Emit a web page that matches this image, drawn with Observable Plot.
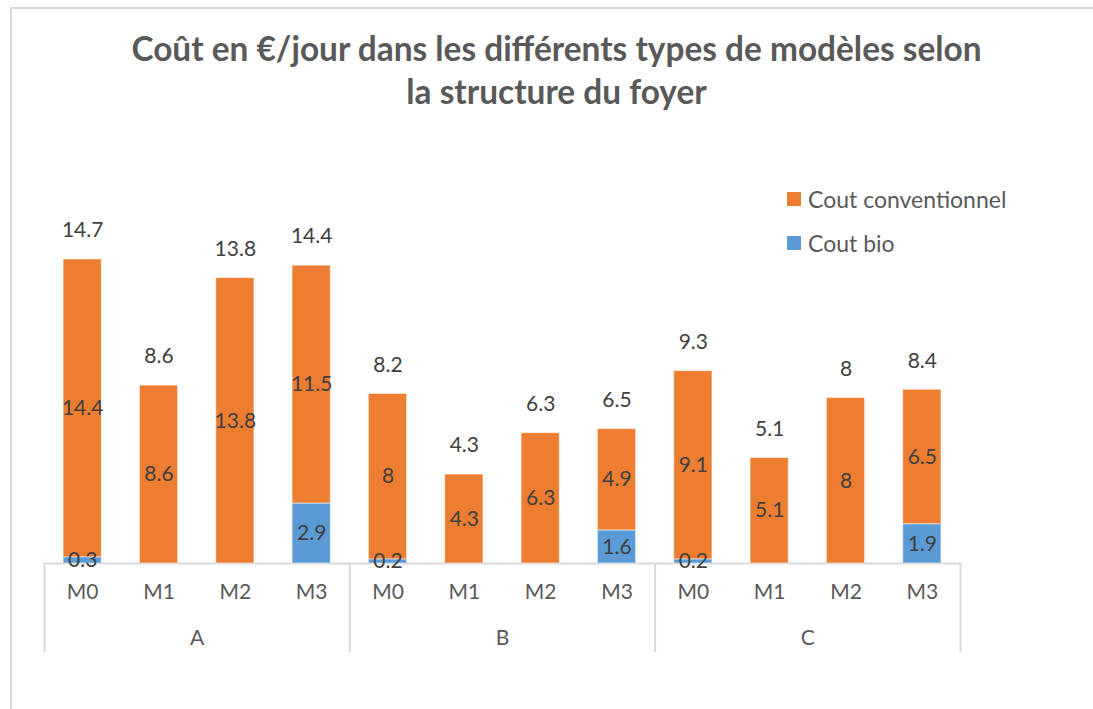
<!DOCTYPE html>
<html><head><meta charset="utf-8">
<script src="https://cdn.jsdelivr.net/npm/d3@7"></script>
<script src="https://cdn.jsdelivr.net/npm/@observablehq/plot@0.6"></script>
<style>
html,body{margin:0;padding:0;background:#fff;}
body{width:1093px;height:709px;position:relative;overflow:hidden;font-family:Lato,"Open Sans",sans-serif;}
#frame{position:absolute;left:10px;top:7px;width:1100px;height:720px;border-left:2px solid #d9d9d9;border-top:2px solid #d9d9d9;}
#title{position:relative;height:130px;box-sizing:border-box;padding-top:27px;padding-left:20px;text-align:center;font-weight:bold;font-size:33.4px;line-height:43px;color:#595959;}
#chart{position:relative;height:579px;}
#legend{position:absolute;left:787px;top:177px;font-size:23px;color:#595959;}
.item{display:flex;align-items:center;height:44px;}
.sw{width:14px;height:14px;margin-right:7px;}
</style></head>
<body>
<div id="frame"></div>
<div id="title">Coût en €/jour dans les différents types de modèles selon<br>la structure du foyer</div>
<div id="chart"></div>
<div id="legend"></div>
<script>
const groups = ["A", "B", "C"];
const models = ["M0", "M1", "M2", "M3"];
const coutBio  = [0.3, 0, 0, 2.9,   0.2, 0, 0, 1.6,   0.2, 0, 0, 1.9];
const coutConv = [14.4, 8.6, 13.8, 11.5,   8, 4.3, 6.3, 4.9,   9.1, 5.1, 8, 6.5];
const totals   = [14.7, 8.6, 13.8, 14.4,   8.2, 4.3, 6.3, 6.5,   9.3, 5.1, 8, 8.4];
const seriesNames = ["Cout conventionnel", "Cout bio"];
const seriesColors = ["#ED7D31", "#5B9BD5"];

const cats = [];
groups.forEach((g, gi) => models.forEach((m, mi) => cats.push({i: gi * models.length + mi, g, m})));

const rows = [];
cats.forEach(c => rows.push({i: c.i, series: seriesNames[1], value: coutBio[c.i]}));
cats.forEach(c => rows.push({i: c.i, series: seriesNames[0], value: coutConv[c.i]}));
const labelRows = rows.filter(d => d.value > 0);
const totalRows = cats.map(c => ({i: c.i, total: totals[c.i]}));
const groupRows = groups.map((g, gi) => ({g, center: gi * models.length + models.length / 2}));
const dividers = d3.range(0, cats.length + 1, models.length);

const chart = Plot.plot({
  width: 1093, height: 579,
  marginLeft: 44, marginRight: 133, marginTop: 129, marginBottom: 146,
  x: {type: "linear", domain: [0, cats.length], axis: null, label: null},
  y: {domain: [0, d3.max(totals)], axis: null, label: null},
  color: {domain: seriesNames, range: seriesColors},
  style: {fontFamily: "Lato, 'Open Sans', sans-serif", background: "transparent", overflow: "visible"},
  marks: [
    Plot.ruleY([0], {stroke: "#d9d9d9", strokeWidth: 2}),
    Plot.axisX(dividers, {tickSize: 89, tickFormat: () => "", label: null, stroke: "#d9d9d9", strokeWidth: 2}),
    Plot.rectY(rows, Plot.stackY({x1: d => d.i + 0.25, x2: d => d.i + 0.75, y: "value", fill: "series", stroke: "white", strokeOpacity: 0.5, strokeWidth: 1})),
    Plot.text(labelRows, Plot.stackY({x: d => d.i + 0.5, y: "value", text: d => String(d.value), fill: "#404040", fontSize: 21})),
    Plot.text(totalRows, {x: d => d.i + 0.5, y: "total", dy: -29, text: d => String(d.total), fill: "#404040", fontSize: 21}),
    Plot.text(cats, {x: d => d.i + 0.5, frameAnchor: "bottom", dy: 35, text: "m", fill: "#595959", fontSize: 21}),
    Plot.text(groupRows, {x: "center", frameAnchor: "bottom", dy: 81, text: "g", fill: "#595959", fontSize: 21})
  ]
});
document.getElementById("chart").appendChild(chart);

const legend = document.getElementById("legend");
seriesNames.forEach((name, k) => {
  const item = document.createElement("div");
  item.className = "item";
  const sw = document.createElement("div");
  sw.className = "sw";
  sw.style.background = seriesColors[k];
  const t = document.createElement("span");
  t.textContent = name;
  item.appendChild(sw); item.appendChild(t);
  legend.appendChild(item);
});
</script>
</body></html>
